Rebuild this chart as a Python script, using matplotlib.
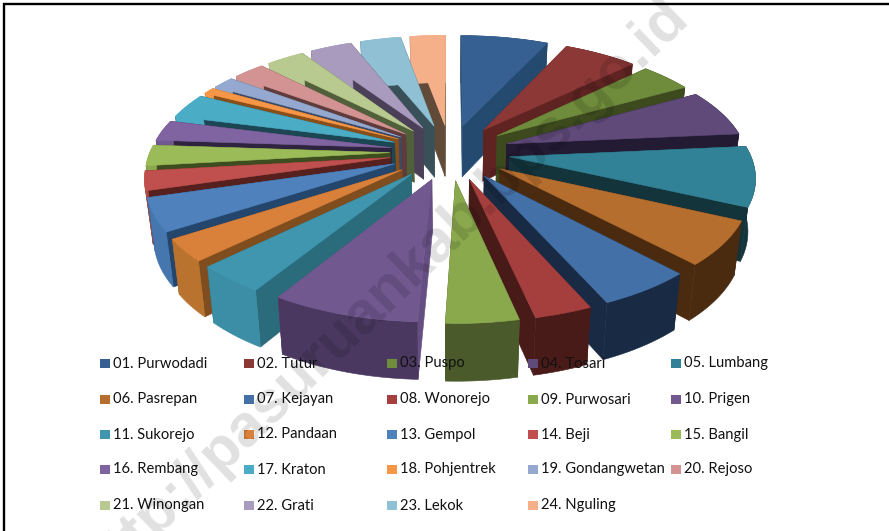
import numpy as np
import matplotlib
matplotlib.use('Agg')
import matplotlib.pyplot as plt
from matplotlib.patches import Polygon, Rectangle

# Data
names = ['01. Purwodadi', '02. Tutur', '03. Puspo', '04. Tosari', '05. Lumbang',
         '06. Pasrepan', '07. Kejayan', '08. Wonorejo', '09. Purwosari', '10. Prigen',
         '11. Sukorejo', '12. Pandaan', '13. Gempol', '14. Beji', '15. Bangil',
         '16. Rembang', '17. Kraton', '18. Pohjentrek', '19. Gondangwetan', '20. Rejoso',
         '21. Winongan', '22. Grati', '23. Lekok', '24. Nguling']
values = [6.9, 5.8, 4.1, 6.6, 8.35, 6.1, 5.3, 3.2, 4.0, 8.15, 3.9, 3.1,
          4.6, 2.7, 2.9, 2.9, 3.5, 0.9, 1.7, 2.5, 3.0, 3.3, 3.2, 2.8]

# Styles
top_colors = ['#376092', '#8c3836', '#6f8b3c', '#5f4a7a', '#318296', '#b66e2f',
              '#4470a8', '#a53f3e', '#8aa84c', '#71588f', '#3f96ae', '#d9803a',
              '#4f81bd', '#c0504d', '#9bbb59', '#8064a2', '#4bacc6', '#f79646',
              '#95a9d0', '#d29392', '#b8ca90', '#a99bbd', '#8fc0d3', '#f5b08a']
wall_colors = ['#254a70', '#5f2322', '#3d4a1e', '#231a33', '#14343c', '#4b2b10',
               '#182a44', '#481b19', '#4d5c2a', '#654e82', '#2a6b7c', '#7f4d1e',
               '#24466c', '#56201f', '#3e4d1f', '#2f2440', '#1c4653', '#8a4f19',
               '#3c4a66', '#5f3c3b', '#50603a', '#4a4058', '#3a5058', '#624a38']
outer_colors = ['#254a70', '#5f2322', '#3d4a1e', '#231a33', '#14343c', '#4b2b10',
                '#182a44', '#481b19', '#4a5a2a', '#4a3860', '#3b8ea5', '#b9732f',
                '#4576ad', '#b04845', '#8aa84c', '#705890', '#4bacc6', '#f79646',
                '#95a9d0', '#d29392', '#b8ca90', '#a99bbd', '#8fc0d3', '#f5b08a']

# Projection of the tilted pie
cx, cy = 450, 152
ax_x, ax_y = 300, 139
persp = 0.19
radius, explode = 0.80, 0.20


def project(X, Y, low=False):
    w = 1 + persp * Y
    sx = cx + ax_x * X / w
    sy = cy - ax_y * Y / w
    if low:
        sx = cx + (sx - cx) * 0.975
        sy = sy + 52 / (1 + 0.1 * Y)
    return np.column_stack([sx, sy])


fig = plt.figure(figsize=(8.89, 5.31), dpi=100)
ax = fig.add_axes([0, 0, 1, 1])
ax.set_xlim(0, 889)
ax.set_ylim(531, 0)
ax.axis('off')

# frame, only top and left show
ax.plot([3.5, 3.5, 889], [531, 3.5, 3.5], color='black', lw=1.7, zorder=1, solid_joinstyle='miter')

fracs = np.array(values) / sum(values)
edges = np.concatenate([[0], np.cumsum(fracs)]) * 2 * np.pi
mids = (edges[:-1] + edges[1:]) / 2

# back to front
order = np.argsort(-np.cos(mids))
for z, i in enumerate(order):
    a0, a1, m = edges[i], edges[i + 1], mids[i]
    ox, oy = explode * np.sin(m), explode * np.cos(m)
    t = np.linspace(a0, a1, 30)
    arc_x = ox + radius * np.sin(t)
    arc_y = oy + radius * np.cos(t)
    top = project(arc_x, arc_y)
    low = project(arc_x, arc_y, low=True)
    tip = project(np.array([ox]), np.array([oy]))
    tip_low = project(np.array([ox]), np.array([oy]), low=True)
    zz = 2 + z
    kw = dict(closed=True, lw=0.4, zorder=zz)
    ax.add_patch(Polygon(np.vstack([tip, top[:1], low[:1], tip_low]), fc=wall_colors[i], ec=wall_colors[i], **kw))
    ax.add_patch(Polygon(np.vstack([tip, top[-1:], low[-1:], tip_low]), fc=wall_colors[i], ec=wall_colors[i], **kw))
    ax.add_patch(Polygon(np.vstack([top, low[::-1]]), fc=outer_colors[i], ec=outer_colors[i], **kw))
    ax.add_patch(Polygon(np.vstack([tip, top]), fc=top_colors[i], ec=top_colors[i], **kw))

# legend
col_x = [100, 244, 387, 528, 671]
row_y = [363, 399, 434, 469, 505]
for i, name in enumerate(names):
    x = col_x[i % 5]
    y = row_y[i // 5]
    ax.add_patch(Rectangle((x, y - 4.5), 9.5, 9.5, fc=top_colors[i], ec='none', zorder=50))
    ax.text(x + 13, y + 4.5, name, family='Lato', fontsize=10.6, color='#111111', va='baseline', ha='left', zorder=51)

# watermark
ax.text(680, 8, 'http://pasuruankab.bps.go.id', family='Liberation Sans', fontweight='bold', fontsize=43,
        color='black', alpha=0.12, rotation=44, rotation_mode='anchor', ha='right', va='center', zorder=60,
        clip_on=True)

fig.savefig('out.png', dpi=100)
